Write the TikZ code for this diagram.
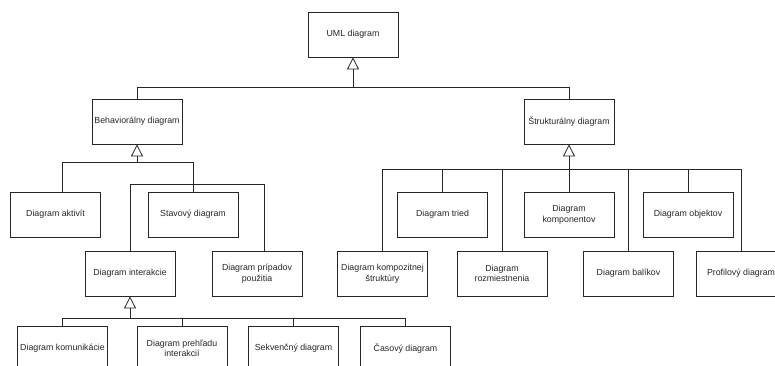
\documentclass[tikz,border=0pt]{standalone}
\usepackage{fontspec}
\setmainfont{Liberation Sans}
\usetikzlibrary{arrows.meta}
\begin{document}
\begin{tikzpicture}[x=1pt,y=-1pt,
  box/.style={draw=black!85, line width=0.8pt, fill=white, minimum width=90pt,
    minimum height=45pt, inner sep=1pt, align=center,
    font=\fontsize{8.8}{10.5}\selectfont, text=black!85},
  link/.style={draw=black!85, line width=0.8pt},
  gen/.style={link, -{Triangle[open, length=12pt, width=12pt, line width=0.8pt]}}]
\clip (0,0) rectangle (775,365);
\useasboundingbox (0,0) rectangle (775,365);
\fill[white] (0,0) rectangle (775,365);

% bus points where the generalisation lines meet
\coordinate (busU) at (353,87);
\coordinate (busB) at (137,162);
\coordinate (jB)   at (193,184);
\coordinate (busI) at (130,318);
\coordinate (busS) at (569,169);

\node[box] (uml)  at (353,34.5)  {UML diagram};
\node[box] (beh)  at (137,121.5) {Behaviorálny diagram};
\node[box] (str)  at (569,121.5) {Štrukturálny diagram};

\node[box] (akt)  at (55.5,214.5) {Diagram aktivít};
\node[box] (stav) at (193,214.5)  {Stavový diagram};
\node[box] (intr) at (130,273.5)  {Diagram interakcie};
\node[box] (prip) at (257,273.5)  {Diagram prípadov\\použitia};

\node[box] (kom)  at (62.5,348.5)  {Diagram komunikácie};
\node[box] (preh) at (182,348.5)   {Diagram prehľadu\\interakcií};
\node[box] (sekv) at (293.5,348.5) {Sekvenčný diagram};
\node[box] (cas)  at (405.5,348.5) {Časový diagram};

\node[box] (tried) at (442.5,214.5) {Diagram tried};
\node[box] (komp)  at (569,214.5)   {Diagram\\komponentov};
\node[box] (obj)   at (688,214.5)   {Diagram objektov};
\node[box] (kpz)   at (382.5,273.5) {Diagram kompozitnej\\štruktúry};
\node[box] (rozm)  at (502,273.5)   {Diagram\\rozmiestnenia};
\node[box] (bal)   at (628.5,273.5) {Diagram balíkov};
\node[box] (prof)  at (741,273.5)   {Profilový diagram};

% top level
\draw[link] (beh.north) |- (busU);
\draw[link] (str.north) |- (busU);
\draw[gen] (busU) -- (uml.south);

% behavioural branch
\draw[link] ([xshift=6.5pt]akt.north) |- (busB);
\draw[link] (stav.north) |- (busB);
\draw[link] (intr.north) |- (jB);
\draw[link] ([xshift=7pt]prip.north) |- (jB);
\draw[gen] (busB) -- (beh.south);

% interaction diagrams
\draw[link] (kom.north)  |- (busI);
\draw[link] (preh.north) |- (busI);
\draw[link] (sekv.north) |- (busI);
\draw[link] (cas.north)  |- (busI);
\draw[gen] (busI) -- (intr.south);

% structural branch
\draw[link] (kpz.north)   |- (busS);
\draw[link] (tried.north) |- (busS);
\draw[link] (rozm.north)  |- (busS);
\draw[link] (komp.north)  -- (busS);
\draw[link] (bal.north)   |- (busS);
\draw[link] (obj.north)   |- (busS);
\draw[link] (prof.north)  |- (busS);
\draw[gen] (busS) -- (str.south);
\end{tikzpicture}
\end{document}
